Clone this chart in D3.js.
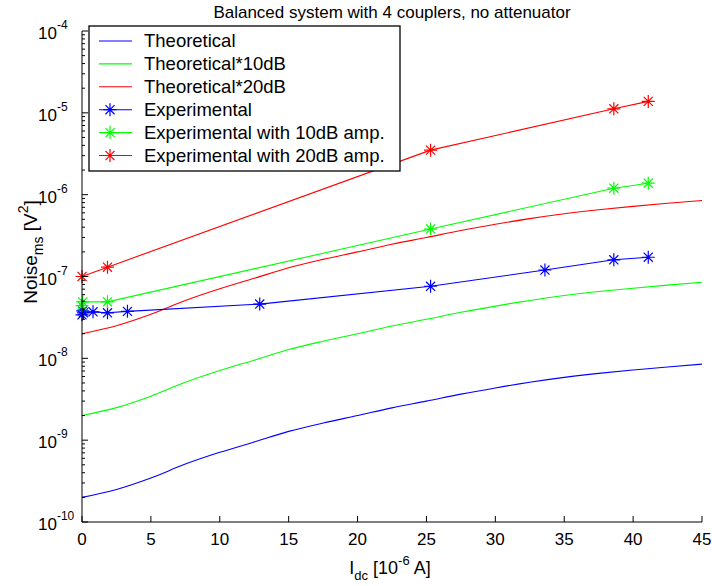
<!DOCTYPE html>
<html>
<head>
<meta charset="utf-8">
<script src="https://cdn.jsdelivr.net/npm/d3@7"></script>
<style>
  body { margin: 0; background: #fff; }
  svg { display: block; font-family: "Liberation Sans", Arial, sans-serif; }
</style>
</head>
<body>
<div id="chart"></div>
<script>
// current axis (10^-6 A) for the theoretical curves
const current = [0, 2.5, 5, 7.5, 10, 12.5, 15, 17.5, 20, 22.5, 25, 27.5, 30, 32.5, 35, 37.5, 40, 42.5, 45];
const theory = [2.0e-10, 2.5e-10, 3.45e-10, 5.1e-10, 7.1e-10, 9.5e-10, 1.28e-9, 1.62e-9, 2.0e-9, 2.48e-9,
  3.0e-9, 3.65e-9, 4.35e-9, 5.1e-9, 5.85e-9, 6.55e-9, 7.2e-9, 7.85e-9, 8.5e-9];
const theory10 = [2.0e-9, 2.5e-9, 3.45e-9, 5.1e-9, 7.1e-9, 9.5e-9, 1.28e-8, 1.62e-8, 2.0e-8, 2.48e-8,
  3.0e-8, 3.65e-8, 4.35e-8, 5.1e-8, 5.85e-8, 6.55e-8, 7.2e-8, 7.85e-8, 8.5e-8];
const theory20 = [2.0e-8, 2.5e-8, 3.45e-8, 5.1e-8, 7.1e-8, 9.5e-8, 1.28e-7, 1.62e-7, 2.0e-7, 2.48e-7,
  3.0e-7, 3.65e-7, 4.35e-7, 5.1e-7, 5.85e-7, 6.55e-7, 7.2e-7, 7.85e-7, 8.5e-7];

const expX = [0, 0.05, 0.1, 0.8, 1.85, 3.3, 12.9, 25.3, 33.6, 38.6, 41.1];
const expY = [3.4e-8, 3.8e-8, 3.6e-8, 3.7e-8, 3.6e-8, 3.75e-8, 4.6e-8, 7.6e-8, 1.2e-7, 1.6e-7, 1.72e-7];
const exp10X = [0, 0.05, 1.85, 25.3, 38.6, 41.1];
const exp10Y = [4.4e-8, 4.9e-8, 4.9e-8, 3.8e-7, 1.2e-6, 1.38e-6];
const exp20X = [0, 1.85, 25.3, 38.6, 41.1];
const exp20Y = [1.0e-7, 1.3e-7, 3.5e-6, 1.12e-5, 1.38e-5];

const xTicks = [0, 5, 10, 15, 20, 25, 30, 35, 40, 45];
const yTicks = [-10, -9, -8, -7, -6, -5, -4];

const legendNames = ["Theoretical", "Theoretical*10dB", "Theoretical*20dB",
  "Experimental", "Experimental with 10dB amp.", "Experimental with 20dB amp."];

const width = 712, height = 586;
const margin = { left: 82, right: 10, top: 31, bottom: 64 };

const x = d3.scaleLinear().domain([0, 45]).range([margin.left, width - margin.right]);
const y = d3.scaleLog().domain([1e-10, 1e-4]).range([height - margin.bottom, margin.top]);

const svg = d3.select("#chart").append("svg")
  .attr("width", width).attr("height", height);

const zip = (a, b) => a.map((v, i) => [v, b[i]]);

const series = [
  { pts: zip(current, theory), color: "#0000ff", marker: false },
  { pts: zip(current, theory10), color: "#00ff00", marker: false },
  { pts: zip(current, theory20), color: "#ff0000", marker: false },
  { pts: zip(expX, expY), color: "#0000ff", marker: true },
  { pts: zip(exp10X, exp10Y), color: "#00ff00", marker: true },
  { pts: zip(exp20X, exp20Y), color: "#ff0000", marker: true }
];

// asterisk marker like matlab '*'
function star(g, cx, cy, color, r) {
  const d = r * 0.7;
  const p = `M${cx - r},${cy}L${cx + r},${cy}M${cx},${cy - r}L${cx},${cy + r}` +
    `M${cx - d},${cy - d}L${cx + d},${cy + d}M${cx - d},${cy + d}L${cx + d},${cy - d}`;
  g.append("path").attr("d", p).attr("stroke", color).attr("stroke-width", 1.2).attr("fill", "none");
}

series.forEach(s => {
  const line = d3.line().x(d => x(d[0])).y(d => y(d[1]))
    .curve(s.marker ? d3.curveLinear : d3.curveMonotoneX);
  svg.append("path").attr("d", line(s.pts)).attr("fill", "none")
    .attr("stroke", s.color).attr("stroke-width", 1.1);
  if (s.marker) {
    const g = svg.append("g");
    s.pts.forEach(p => star(g, x(p[0]), y(p[1]), s.color, 6.5));
  }
});

// axes
const ax = svg.append("g").attr("stroke", "#000").attr("fill", "none");
ax.append("line").attr("x1", x(0)).attr("x2", x(0)).attr("y1", y(1e-4)).attr("y2", y(1e-10));
ax.append("line").attr("x1", x(0)).attr("x2", x(45)).attr("y1", y(1e-10)).attr("y2", y(1e-10));

xTicks.forEach(t => {
  ax.append("line").attr("x1", x(t)).attr("x2", x(t)).attr("y1", y(1e-10)).attr("y2", y(1e-10) - 6);
  svg.append("text").attr("x", x(t)).attr("y", y(1e-10) + 23)
    .attr("text-anchor", "middle").attr("font-size", 17).text(t);
});

yTicks.forEach(e => {
  const v = Math.pow(10, e);
  ax.append("line").attr("x1", x(0)).attr("x2", x(0) + 6).attr("y1", y(v)).attr("y2", y(v));
  if (e < -4) {
    for (let m = 2; m <= 9; m++) {
      const yy = y(m * v);
      ax.append("line").attr("x1", x(0)).attr("x2", x(0) + 3).attr("y1", yy).attr("y2", yy);
    }
  }
  const t = svg.append("text").attr("x", 38).attr("y", y(v) + 8).attr("font-size", 17);
  t.append("tspan").text("10");
  t.append("tspan").attr("dy", -10).attr("font-size", 12).text(e);
});

// title and labels
svg.append("text").attr("x", 392).attr("y", 18).attr("text-anchor", "middle")
  .attr("font-size", 17).text("Balanced system with 4 couplers, no attenuator");

const xl = svg.append("text").attr("x", 390).attr("y", 574).attr("text-anchor", "middle").attr("font-size", 18);
xl.append("tspan").text("I");
xl.append("tspan").attr("dy", 6).attr("font-size", 13).text("dc");
xl.append("tspan").attr("dy", -6).text(" [10");
xl.append("tspan").attr("dy", -9).attr("font-size", 13).text("-6");
xl.append("tspan").attr("dy", 9).text(" A]");

const yl = svg.append("text").attr("transform", "translate(37,252) rotate(-90)")
  .attr("text-anchor", "middle").attr("font-size", 19);
yl.append("tspan").text("Noise");
yl.append("tspan").attr("dy", 6).attr("font-size", 14).text("ms");
yl.append("tspan").attr("dy", -6).text(" [V");
yl.append("tspan").attr("dy", -9).attr("font-size", 14).text("2");
yl.append("tspan").attr("dy", 9).text("]");

// legend
const lg = svg.append("g");
lg.append("rect").attr("x", 89).attr("y", 26).attr("width", 311).attr("height", 145)
  .attr("fill", "#fff").attr("stroke", "#000").attr("stroke-width", 1.3);
legendNames.forEach((name, i) => {
  const yy = 41 + i * 22.9;
  const s = series[i];
  lg.append("line").attr("x1", 99).attr("x2", 132).attr("y1", yy).attr("y2", yy)
    .attr("stroke", s.color).attr("stroke-width", 1.1);
  if (s.marker) star(lg, 110, yy, s.color, 6.5);
  lg.append("text").attr("x", 144).attr("y", yy + 6).attr("font-size", 18.5).text(name);
});
</script>
</body>
</html>
